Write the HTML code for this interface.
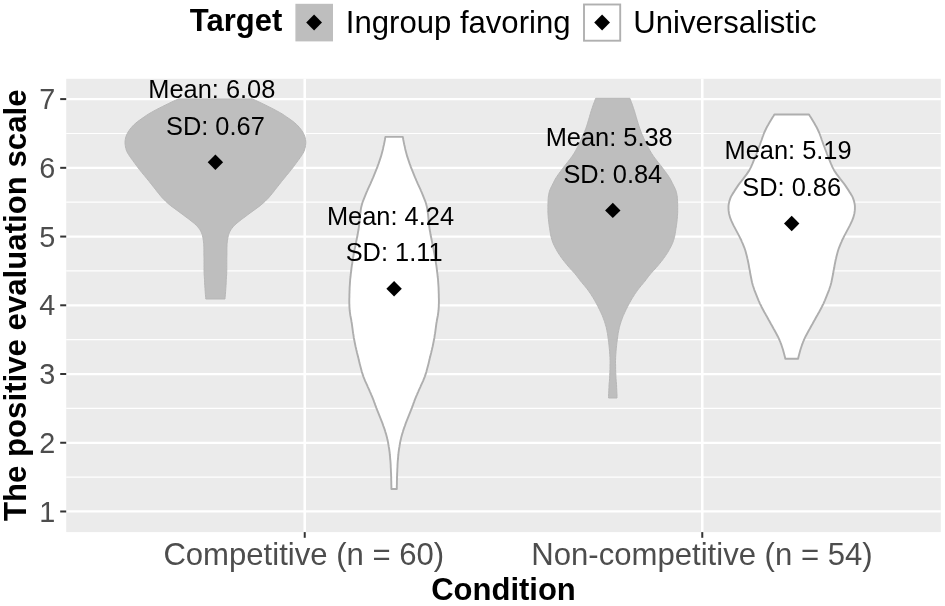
<!DOCTYPE html>
<html lang="en"><head><meta charset="utf-8"><title>Violin plot</title>
<style>
html,body{margin:0;padding:0;background:#fff;}
svg{display:block;width:945px;height:606px;will-change:transform;}
text{font-family:"Liberation Sans",sans-serif;}
.ax{fill:#4d4d4d;}
.b{font-weight:bold;fill:#000;}
.ann{fill:#000;text-anchor:middle;}
</style></head><body>
<svg width="945" height="606" viewBox="0 0 945 606" role="img" aria-label="Violin plot of the positive evaluation scale by condition and target">
<rect x="0" y="0" width="945" height="606" fill="#ffffff"/>
<rect x="66.2" y="78.8" width="874.6" height="453.3" fill="#ebebeb"/>
<g stroke="#ffffff" stroke-width="1.15" fill="none">
<line x1="66.2" x2="940.8" y1="477.12" y2="477.12"/>
<line x1="66.2" x2="940.8" y1="408.38" y2="408.38"/>
<line x1="66.2" x2="940.8" y1="339.65" y2="339.65"/>
<line x1="66.2" x2="940.8" y1="270.93" y2="270.93"/>
<line x1="66.2" x2="940.8" y1="202.19" y2="202.19"/>
<line x1="66.2" x2="940.8" y1="133.47" y2="133.47"/>
</g>
<g stroke="#ffffff" stroke-width="2.25" fill="none">
<line x1="66.2" x2="940.8" y1="511.48" y2="511.48"/>
<line x1="66.2" x2="940.8" y1="442.75" y2="442.75"/>
<line x1="66.2" x2="940.8" y1="374.02" y2="374.02"/>
<line x1="66.2" x2="940.8" y1="305.29" y2="305.29"/>
<line x1="66.2" x2="940.8" y1="236.56" y2="236.56"/>
<line x1="66.2" x2="940.8" y1="167.83" y2="167.83"/>
<line x1="66.2" x2="940.8" y1="99.10" y2="99.10"/>
<line x1="304.73" x2="304.73" y1="78.8" y2="532.1" stroke-width="2.6"/>
<line x1="702.27" x2="702.27" y1="78.8" y2="532.1" stroke-width="2.6"/>
</g>
<path d="M178.5,98.9 L175.2,100.4 L171.9,101.9 L168.8,103.4 L165.7,104.9 L162.7,106.4 L159.7,107.9 L156.8,109.4 L154.0,110.9 L151.3,112.4 L148.7,113.9 L146.4,115.4 L144.1,117.0 L141.9,118.5 L139.8,120.0 L137.7,121.5 L135.9,123.0 L134.2,124.5 L132.7,126.0 L131.4,127.5 L130.2,129.0 L129.1,130.5 L128.1,132.0 L127.3,133.5 L126.6,135.0 L126.0,136.5 L125.6,138.0 L125.3,139.5 L125.1,141.0 L125.0,142.5 L125.1,144.0 L125.3,145.5 L125.5,147.0 L125.9,148.5 L126.3,150.1 L126.9,151.6 L127.7,153.1 L128.6,154.6 L129.6,156.1 L130.6,157.6 L131.7,159.1 L132.8,160.6 L133.9,162.1 L135.0,163.6 L136.1,165.1 L137.2,166.6 L138.3,168.1 L139.5,169.6 L140.7,171.1 L141.9,172.6 L143.1,174.1 L144.4,175.6 L145.6,177.1 L146.8,178.6 L148.1,180.1 L149.3,181.6 L150.5,183.2 L151.7,184.7 L152.9,186.2 L154.1,187.7 L155.3,189.2 L156.4,190.7 L157.6,192.2 L158.8,193.7 L160.0,195.2 L161.3,196.7 L162.6,198.2 L164.1,199.7 L165.6,201.2 L167.2,202.7 L168.9,204.2 L170.7,205.7 L172.7,207.2 L174.8,208.7 L176.8,210.2 L178.9,211.7 L180.9,213.2 L183.0,214.7 L185.0,216.3 L187.1,217.8 L189.1,219.3 L191.0,220.8 L192.9,222.3 L194.7,223.8 L196.3,225.3 L197.7,226.8 L198.9,228.3 L200.0,229.8 L200.8,231.3 L201.5,232.8 L202.1,234.3 L202.5,235.8 L202.8,237.3 L203.1,238.8 L203.3,240.3 L203.5,241.8 L203.7,243.3 L203.8,244.8 L203.8,246.3 L203.9,247.8 L203.9,249.4 L203.9,250.9 L203.9,252.4 L203.9,253.9 L203.9,255.4 L204.0,256.9 L204.0,258.4 L204.0,259.9 L204.0,261.4 L204.0,262.9 L204.0,264.4 L204.0,265.9 L204.0,267.4 L204.0,268.9 L204.0,270.4 L204.1,271.9 L204.1,273.4 L204.2,274.9 L204.3,276.4 L204.4,277.9 L204.5,279.4 L204.6,280.9 L204.6,282.5 L204.7,284.0 L204.8,285.5 L204.9,287.0 L205.0,288.5 L205.1,290.0 L205.2,291.5 L205.3,293.0 L205.4,294.5 L205.6,296.0 L205.7,297.5 L205.8,299.0 L225.0,299.0 L225.1,297.5 L225.2,296.0 L225.4,294.5 L225.5,293.0 L225.6,291.5 L225.7,290.0 L225.8,288.5 L225.9,287.0 L226.0,285.5 L226.1,284.0 L226.2,282.5 L226.2,280.9 L226.3,279.4 L226.4,277.9 L226.5,276.4 L226.6,274.9 L226.7,273.4 L226.7,271.9 L226.8,270.4 L226.8,268.9 L226.8,267.4 L226.8,265.9 L226.8,264.4 L226.8,262.9 L226.8,261.4 L226.8,259.9 L226.8,258.4 L226.8,256.9 L226.9,255.4 L226.9,253.9 L226.9,252.4 L226.9,250.9 L226.9,249.4 L226.9,247.8 L227.0,246.3 L227.0,244.8 L227.1,243.3 L227.3,241.8 L227.5,240.3 L227.7,238.8 L228.0,237.3 L228.3,235.8 L228.7,234.3 L229.3,232.8 L230.0,231.3 L230.8,229.8 L231.9,228.3 L233.1,226.8 L234.5,225.3 L236.1,223.8 L237.9,222.3 L239.8,220.8 L241.7,219.3 L243.7,217.8 L245.8,216.3 L247.8,214.7 L249.9,213.2 L251.9,211.7 L254.0,210.2 L256.0,208.7 L258.1,207.2 L260.1,205.7 L261.9,204.2 L263.6,202.7 L265.2,201.2 L266.7,199.7 L268.2,198.2 L269.5,196.7 L270.8,195.2 L272.0,193.7 L273.2,192.2 L274.4,190.7 L275.5,189.2 L276.7,187.7 L277.9,186.2 L279.1,184.7 L280.3,183.2 L281.5,181.6 L282.7,180.1 L284.0,178.6 L285.2,177.1 L286.4,175.6 L287.7,174.1 L288.9,172.6 L290.1,171.1 L291.3,169.6 L292.5,168.1 L293.6,166.6 L294.7,165.1 L295.8,163.6 L296.9,162.1 L298.0,160.6 L299.1,159.1 L300.2,157.6 L301.2,156.1 L302.2,154.6 L303.1,153.1 L303.9,151.6 L304.5,150.1 L304.9,148.5 L305.3,147.0 L305.5,145.5 L305.7,144.0 L305.8,142.5 L305.7,141.0 L305.5,139.5 L305.2,138.0 L304.8,136.5 L304.2,135.0 L303.5,133.5 L302.7,132.0 L301.7,130.5 L300.6,129.0 L299.4,127.5 L298.1,126.0 L296.6,124.5 L294.9,123.0 L293.1,121.5 L291.0,120.0 L288.9,118.5 L286.7,117.0 L284.4,115.4 L282.1,113.9 L279.5,112.4 L276.8,110.9 L274.0,109.4 L271.1,107.9 L268.1,106.4 L265.1,104.9 L262.0,103.4 L258.9,101.9 L255.6,100.4 L252.3,98.9 Z" fill="#bebebe" stroke="#b7b7b7" stroke-width="1" stroke-linejoin="round"/>
<path d="M385.4,136.9 L385.1,138.4 L384.9,139.9 L384.6,141.4 L384.3,142.9 L384.0,144.4 L383.6,145.9 L383.3,147.4 L383.0,148.9 L382.6,150.4 L382.2,151.9 L381.8,153.4 L381.4,154.9 L381.0,156.4 L380.5,157.9 L380.0,159.4 L379.5,160.9 L379.0,162.4 L378.5,163.9 L377.9,165.4 L377.4,166.9 L376.8,168.4 L376.2,169.9 L375.6,171.4 L375.0,172.9 L374.4,174.4 L373.8,175.9 L373.2,177.4 L372.5,178.9 L371.9,180.4 L371.2,181.8 L370.6,183.3 L369.9,184.8 L369.2,186.3 L368.5,187.8 L367.8,189.3 L367.2,190.8 L366.5,192.3 L365.9,193.8 L365.3,195.3 L364.7,196.8 L364.1,198.3 L363.5,199.8 L362.9,201.3 L362.4,202.8 L362.0,204.3 L361.6,205.8 L361.2,207.3 L360.9,208.8 L360.7,210.3 L360.5,211.8 L360.3,213.3 L360.1,214.8 L360.0,216.3 L359.8,217.8 L359.7,219.3 L359.6,220.8 L359.4,222.3 L359.3,223.8 L359.1,225.3 L358.9,226.8 L358.7,228.3 L358.5,229.8 L358.2,231.3 L357.9,232.8 L357.7,234.3 L357.4,235.8 L357.1,237.3 L356.8,238.8 L356.5,240.3 L356.2,241.8 L355.9,243.3 L355.6,244.8 L355.3,246.3 L355.0,247.8 L354.6,249.3 L354.4,250.8 L354.1,252.3 L353.8,253.8 L353.5,255.3 L353.3,256.8 L353.0,258.3 L352.8,259.8 L352.5,261.3 L352.3,262.8 L352.1,264.3 L351.8,265.8 L351.6,267.3 L351.4,268.8 L351.3,270.2 L351.1,271.7 L350.9,273.2 L350.7,274.7 L350.6,276.2 L350.4,277.7 L350.2,279.2 L350.1,280.7 L350.0,282.2 L349.9,283.7 L349.8,285.2 L349.7,286.7 L349.6,288.2 L349.6,289.7 L349.5,291.2 L349.5,292.7 L349.4,294.2 L349.4,295.7 L349.4,297.2 L349.3,298.7 L349.3,300.2 L349.3,301.7 L349.3,303.2 L349.4,304.7 L349.4,306.2 L349.5,307.7 L349.6,309.2 L349.7,310.7 L349.9,312.2 L350.1,313.7 L350.3,315.2 L350.6,316.7 L350.9,318.2 L351.2,319.7 L351.4,321.2 L351.7,322.7 L351.9,324.2 L352.1,325.7 L352.3,327.2 L352.5,328.7 L352.7,330.2 L352.9,331.7 L353.1,333.2 L353.4,334.7 L353.6,336.2 L353.8,337.7 L354.1,339.2 L354.4,340.7 L354.7,342.2 L355.0,343.7 L355.3,345.2 L355.6,346.7 L356.0,348.2 L356.3,349.7 L356.7,351.2 L357.0,352.7 L357.4,354.2 L357.8,355.7 L358.1,357.1 L358.5,358.6 L358.8,360.1 L359.2,361.6 L359.5,363.1 L359.9,364.6 L360.3,366.1 L360.7,367.6 L361.1,369.1 L361.5,370.6 L361.9,372.1 L362.4,373.6 L362.9,375.1 L363.4,376.6 L364.0,378.1 L364.6,379.6 L365.2,381.1 L365.9,382.6 L366.6,384.1 L367.3,385.6 L367.9,387.1 L368.6,388.6 L369.3,390.1 L369.9,391.6 L370.6,393.1 L371.2,394.6 L371.9,396.1 L372.5,397.6 L373.1,399.1 L373.7,400.6 L374.2,402.1 L374.8,403.6 L375.3,405.1 L375.9,406.6 L376.4,408.1 L377.0,409.6 L377.6,411.1 L378.2,412.6 L378.8,414.1 L379.4,415.6 L380.0,417.1 L380.6,418.6 L381.2,420.1 L381.8,421.6 L382.4,423.1 L382.9,424.6 L383.4,426.1 L384.0,427.6 L384.5,429.1 L385.0,430.6 L385.4,432.1 L385.9,433.6 L386.3,435.1 L386.7,436.6 L387.1,438.1 L387.4,439.6 L387.8,441.1 L388.1,442.6 L388.3,444.1 L388.6,445.5 L388.8,447.0 L389.1,448.5 L389.3,450.0 L389.5,451.5 L389.7,453.0 L389.8,454.5 L390.0,456.0 L390.1,457.5 L390.2,459.0 L390.4,460.5 L390.5,462.0 L390.6,463.5 L390.7,465.0 L390.7,466.5 L390.8,468.0 L390.9,469.5 L390.9,471.0 L391.0,472.5 L391.1,474.0 L391.1,475.5 L391.2,477.0 L391.2,478.5 L391.2,480.0 L391.3,481.5 L391.3,483.0 L391.3,484.5 L391.4,486.0 L391.4,487.5 L391.4,489.0 L396.8,489.0 L396.8,487.5 L396.8,486.0 L396.9,484.5 L396.9,483.0 L396.9,481.5 L397.0,480.0 L397.0,478.5 L397.0,477.0 L397.1,475.5 L397.1,474.0 L397.2,472.5 L397.3,471.0 L397.3,469.5 L397.4,468.0 L397.5,466.5 L397.5,465.0 L397.6,463.5 L397.7,462.0 L397.8,460.5 L398.0,459.0 L398.1,457.5 L398.2,456.0 L398.4,454.5 L398.5,453.0 L398.7,451.5 L398.9,450.0 L399.1,448.5 L399.4,447.0 L399.6,445.5 L399.9,444.1 L400.1,442.6 L400.4,441.1 L400.8,439.6 L401.1,438.1 L401.5,436.6 L401.9,435.1 L402.3,433.6 L402.8,432.1 L403.2,430.6 L403.7,429.1 L404.2,427.6 L404.8,426.1 L405.3,424.6 L405.8,423.1 L406.4,421.6 L407.0,420.1 L407.6,418.6 L408.2,417.1 L408.8,415.6 L409.4,414.1 L410.0,412.6 L410.6,411.1 L411.2,409.6 L411.8,408.1 L412.3,406.6 L412.9,405.1 L413.4,403.6 L414.0,402.1 L414.5,400.6 L415.1,399.1 L415.7,397.6 L416.3,396.1 L417.0,394.6 L417.6,393.1 L418.3,391.6 L418.9,390.1 L419.6,388.6 L420.3,387.1 L420.9,385.6 L421.6,384.1 L422.3,382.6 L423.0,381.1 L423.6,379.6 L424.2,378.1 L424.8,376.6 L425.3,375.1 L425.8,373.6 L426.3,372.1 L426.7,370.6 L427.1,369.1 L427.5,367.6 L427.9,366.1 L428.3,364.6 L428.7,363.1 L429.0,361.6 L429.4,360.1 L429.7,358.6 L430.1,357.1 L430.4,355.7 L430.8,354.2 L431.2,352.7 L431.5,351.2 L431.9,349.7 L432.2,348.2 L432.6,346.7 L432.9,345.2 L433.2,343.7 L433.5,342.2 L433.8,340.7 L434.1,339.2 L434.4,337.7 L434.6,336.2 L434.8,334.7 L435.1,333.2 L435.3,331.7 L435.5,330.2 L435.7,328.7 L435.9,327.2 L436.1,325.7 L436.3,324.2 L436.5,322.7 L436.8,321.2 L437.0,319.7 L437.3,318.2 L437.6,316.7 L437.9,315.2 L438.1,313.7 L438.3,312.2 L438.5,310.7 L438.6,309.2 L438.7,307.7 L438.8,306.2 L438.8,304.7 L438.9,303.2 L438.9,301.7 L438.9,300.2 L438.9,298.7 L438.8,297.2 L438.8,295.7 L438.8,294.2 L438.7,292.7 L438.7,291.2 L438.6,289.7 L438.6,288.2 L438.5,286.7 L438.4,285.2 L438.3,283.7 L438.2,282.2 L438.1,280.7 L438.0,279.2 L437.8,277.7 L437.6,276.2 L437.5,274.7 L437.3,273.2 L437.1,271.7 L436.9,270.2 L436.8,268.8 L436.6,267.3 L436.4,265.8 L436.1,264.3 L435.9,262.8 L435.7,261.3 L435.4,259.8 L435.2,258.3 L434.9,256.8 L434.7,255.3 L434.4,253.8 L434.1,252.3 L433.8,250.8 L433.6,249.3 L433.2,247.8 L432.9,246.3 L432.6,244.8 L432.3,243.3 L432.0,241.8 L431.7,240.3 L431.4,238.8 L431.1,237.3 L430.8,235.8 L430.5,234.3 L430.3,232.8 L430.0,231.3 L429.7,229.8 L429.5,228.3 L429.3,226.8 L429.1,225.3 L428.9,223.8 L428.8,222.3 L428.6,220.8 L428.5,219.3 L428.4,217.8 L428.2,216.3 L428.1,214.8 L427.9,213.3 L427.7,211.8 L427.5,210.3 L427.3,208.8 L427.0,207.3 L426.6,205.8 L426.2,204.3 L425.8,202.8 L425.3,201.3 L424.7,199.8 L424.1,198.3 L423.5,196.8 L422.9,195.3 L422.3,193.8 L421.7,192.3 L421.0,190.8 L420.4,189.3 L419.7,187.8 L419.0,186.3 L418.3,184.8 L417.6,183.3 L417.0,181.8 L416.3,180.4 L415.7,178.9 L415.0,177.4 L414.4,175.9 L413.8,174.4 L413.2,172.9 L412.6,171.4 L412.0,169.9 L411.4,168.4 L410.8,166.9 L410.3,165.4 L409.7,163.9 L409.2,162.4 L408.7,160.9 L408.2,159.4 L407.7,157.9 L407.2,156.4 L406.8,154.9 L406.4,153.4 L406.0,151.9 L405.6,150.4 L405.2,148.9 L404.9,147.4 L404.6,145.9 L404.2,144.4 L403.9,142.9 L403.6,141.4 L403.3,139.9 L403.1,138.4 L402.8,136.9 Z" fill="#ffffff" stroke="#aeaeae" stroke-width="1.9" stroke-linejoin="round"/>
<path d="M595.7,98.3 L595.1,99.8 L594.6,101.3 L594.0,102.8 L593.4,104.3 L592.9,105.8 L592.4,107.3 L591.9,108.8 L591.4,110.3 L590.9,111.8 L590.5,113.3 L590.0,114.8 L589.6,116.3 L589.2,117.8 L588.7,119.3 L588.3,120.8 L587.8,122.3 L587.4,123.8 L586.9,125.3 L586.4,126.8 L585.9,128.3 L585.3,129.8 L584.8,131.3 L584.2,132.8 L583.6,134.3 L582.9,135.8 L582.2,137.3 L581.6,138.8 L580.9,140.3 L580.2,141.8 L579.5,143.3 L578.7,144.8 L578.0,146.3 L577.2,147.8 L576.4,149.2 L575.6,150.7 L574.7,152.2 L573.8,153.7 L572.8,155.2 L571.8,156.7 L570.7,158.2 L569.5,159.7 L568.4,161.2 L567.2,162.7 L566.0,164.2 L564.8,165.7 L563.6,167.2 L562.5,168.7 L561.4,170.2 L560.3,171.7 L559.2,173.2 L558.1,174.7 L557.1,176.2 L556.1,177.7 L555.2,179.2 L554.4,180.7 L553.7,182.2 L552.9,183.7 L552.2,185.2 L551.4,186.7 L550.7,188.2 L550.0,189.7 L549.5,191.2 L549.1,192.7 L548.8,194.2 L548.5,195.7 L548.3,197.2 L548.2,198.7 L548.1,200.2 L548.0,201.7 L548.0,203.2 L547.9,204.7 L547.9,206.2 L547.9,207.7 L547.9,209.2 L547.9,210.7 L547.9,212.2 L548.0,213.7 L548.1,215.2 L548.2,216.7 L548.3,218.2 L548.5,219.7 L548.6,221.2 L548.8,222.7 L549.0,224.2 L549.2,225.7 L549.4,227.2 L549.7,228.7 L549.9,230.2 L550.1,231.7 L550.4,233.2 L550.6,234.7 L550.9,236.2 L551.3,237.7 L551.7,239.2 L552.2,240.7 L552.7,242.2 L553.3,243.7 L554.0,245.2 L554.7,246.7 L555.5,248.1 L556.3,249.6 L557.1,251.1 L558.0,252.6 L559.0,254.1 L560.0,255.6 L561.0,257.1 L562.1,258.6 L563.2,260.1 L564.4,261.6 L565.6,263.1 L566.8,264.6 L568.1,266.1 L569.4,267.6 L570.7,269.1 L572.1,270.6 L573.5,272.1 L574.8,273.6 L576.1,275.1 L577.2,276.6 L578.4,278.1 L579.5,279.6 L580.6,281.1 L581.9,282.6 L583.1,284.1 L584.4,285.6 L585.6,287.1 L586.8,288.6 L588.0,290.1 L589.0,291.6 L590.1,293.1 L591.1,294.6 L592.0,296.1 L593.0,297.6 L593.9,299.1 L594.7,300.6 L595.6,302.1 L596.4,303.6 L597.2,305.1 L598.0,306.6 L598.7,308.1 L599.5,309.6 L600.2,311.1 L600.9,312.6 L601.6,314.1 L602.3,315.6 L602.9,317.1 L603.4,318.6 L604.0,320.1 L604.5,321.6 L605.0,323.1 L605.4,324.6 L605.9,326.1 L606.3,327.6 L606.6,329.1 L606.9,330.6 L607.2,332.1 L607.5,333.6 L607.7,335.1 L607.9,336.6 L608.1,338.1 L608.3,339.6 L608.5,341.1 L608.7,342.6 L608.9,344.1 L609.0,345.6 L609.2,347.1 L609.3,348.5 L609.5,350.0 L609.6,351.5 L609.7,353.0 L609.8,354.5 L609.9,356.0 L610.0,357.5 L610.0,359.0 L610.1,360.5 L610.1,362.0 L610.1,363.5 L610.0,365.0 L610.0,366.5 L610.0,368.0 L610.0,369.5 L609.9,371.0 L609.9,372.5 L609.8,374.0 L609.7,375.5 L609.7,377.0 L609.6,378.5 L609.5,380.0 L609.4,381.5 L609.2,383.0 L609.1,384.5 L609.0,386.0 L609.0,387.5 L608.9,389.0 L608.8,390.5 L608.8,392.0 L608.7,393.5 L608.6,395.0 L608.6,396.5 L608.6,398.0 L617.0,398.0 L617.0,396.5 L617.0,395.0 L616.9,393.5 L616.8,392.0 L616.8,390.5 L616.7,389.0 L616.6,387.5 L616.6,386.0 L616.5,384.5 L616.4,383.0 L616.2,381.5 L616.1,380.0 L616.0,378.5 L615.9,377.0 L615.9,375.5 L615.8,374.0 L615.7,372.5 L615.7,371.0 L615.6,369.5 L615.6,368.0 L615.6,366.5 L615.6,365.0 L615.5,363.5 L615.5,362.0 L615.5,360.5 L615.6,359.0 L615.6,357.5 L615.7,356.0 L615.8,354.5 L615.9,353.0 L616.0,351.5 L616.1,350.0 L616.3,348.5 L616.4,347.1 L616.6,345.6 L616.7,344.1 L616.9,342.6 L617.1,341.1 L617.3,339.6 L617.5,338.1 L617.7,336.6 L617.9,335.1 L618.1,333.6 L618.4,332.1 L618.7,330.6 L619.0,329.1 L619.3,327.6 L619.7,326.1 L620.2,324.6 L620.6,323.1 L621.1,321.6 L621.6,320.1 L622.2,318.6 L622.7,317.1 L623.3,315.6 L624.0,314.1 L624.7,312.6 L625.4,311.1 L626.1,309.6 L626.9,308.1 L627.6,306.6 L628.4,305.1 L629.2,303.6 L630.0,302.1 L630.9,300.6 L631.7,299.1 L632.6,297.6 L633.6,296.1 L634.5,294.6 L635.5,293.1 L636.6,291.6 L637.6,290.1 L638.8,288.6 L640.0,287.1 L641.2,285.6 L642.5,284.1 L643.7,282.6 L645.0,281.1 L646.1,279.6 L647.2,278.1 L648.4,276.6 L649.5,275.1 L650.8,273.6 L652.1,272.1 L653.5,270.6 L654.9,269.1 L656.2,267.6 L657.5,266.1 L658.8,264.6 L660.0,263.1 L661.2,261.6 L662.4,260.1 L663.5,258.6 L664.6,257.1 L665.6,255.6 L666.6,254.1 L667.6,252.6 L668.5,251.1 L669.3,249.6 L670.1,248.1 L670.9,246.7 L671.6,245.2 L672.3,243.7 L672.9,242.2 L673.4,240.7 L673.9,239.2 L674.3,237.7 L674.7,236.2 L675.0,234.7 L675.2,233.2 L675.5,231.7 L675.7,230.2 L675.9,228.7 L676.2,227.2 L676.4,225.7 L676.6,224.2 L676.8,222.7 L677.0,221.2 L677.1,219.7 L677.3,218.2 L677.4,216.7 L677.5,215.2 L677.6,213.7 L677.7,212.2 L677.7,210.7 L677.7,209.2 L677.7,207.7 L677.7,206.2 L677.7,204.7 L677.6,203.2 L677.6,201.7 L677.5,200.2 L677.4,198.7 L677.3,197.2 L677.1,195.7 L676.8,194.2 L676.5,192.7 L676.1,191.2 L675.6,189.7 L674.9,188.2 L674.2,186.7 L673.4,185.2 L672.7,183.7 L671.9,182.2 L671.2,180.7 L670.4,179.2 L669.5,177.7 L668.5,176.2 L667.5,174.7 L666.4,173.2 L665.3,171.7 L664.2,170.2 L663.1,168.7 L662.0,167.2 L660.8,165.7 L659.6,164.2 L658.4,162.7 L657.2,161.2 L656.1,159.7 L654.9,158.2 L653.8,156.7 L652.8,155.2 L651.8,153.7 L650.9,152.2 L650.0,150.7 L649.2,149.2 L648.4,147.8 L647.6,146.3 L646.9,144.8 L646.1,143.3 L645.4,141.8 L644.7,140.3 L644.0,138.8 L643.4,137.3 L642.7,135.8 L642.0,134.3 L641.4,132.8 L640.8,131.3 L640.3,129.8 L639.7,128.3 L639.2,126.8 L638.7,125.3 L638.2,123.8 L637.8,122.3 L637.3,120.8 L636.9,119.3 L636.4,117.8 L636.0,116.3 L635.6,114.8 L635.1,113.3 L634.7,111.8 L634.2,110.3 L633.7,108.8 L633.2,107.3 L632.7,105.8 L632.2,104.3 L631.6,102.8 L631.0,101.3 L630.5,99.8 L629.9,98.3 Z" fill="#bebebe" stroke="#b7b7b7" stroke-width="1" stroke-linejoin="round"/>
<path d="M774.4,114.5 L773.5,116.0 L772.5,117.5 L771.6,119.0 L770.7,120.5 L769.8,122.0 L768.9,123.5 L768.1,125.0 L767.2,126.5 L766.4,128.0 L765.7,129.5 L765.0,131.0 L764.3,132.5 L763.7,134.0 L763.2,135.5 L762.6,137.0 L762.1,138.5 L761.6,140.0 L761.0,141.5 L760.5,143.0 L760.0,144.5 L759.4,146.0 L758.8,147.5 L758.3,149.0 L757.7,150.5 L757.1,152.0 L756.6,153.5 L756.0,155.0 L755.4,156.4 L754.8,157.9 L754.2,159.4 L753.6,160.9 L753.0,162.4 L752.4,163.9 L751.7,165.4 L751.1,166.9 L750.3,168.4 L749.5,169.9 L748.6,171.4 L747.6,172.9 L746.6,174.4 L745.4,175.9 L744.3,177.4 L743.2,178.9 L742.0,180.4 L740.8,181.9 L739.6,183.4 L738.5,184.9 L737.5,186.4 L736.5,187.9 L735.5,189.4 L734.5,190.9 L733.6,192.4 L732.6,193.9 L731.7,195.4 L730.9,196.9 L730.3,198.4 L729.8,199.9 L729.3,201.4 L729.0,202.9 L728.7,204.4 L728.5,205.9 L728.5,207.4 L728.5,208.9 L728.6,210.4 L728.8,211.9 L729.0,213.4 L729.4,214.9 L729.8,216.4 L730.2,217.9 L730.8,219.4 L731.4,220.9 L732.1,222.4 L732.8,223.9 L733.5,225.4 L734.3,226.9 L735.1,228.4 L735.9,229.9 L736.7,231.4 L737.5,232.9 L738.3,234.4 L739.1,235.9 L739.8,237.3 L740.5,238.8 L741.3,240.3 L741.9,241.8 L742.6,243.3 L743.2,244.8 L743.8,246.3 L744.4,247.8 L744.9,249.3 L745.4,250.8 L745.8,252.3 L746.2,253.8 L746.6,255.3 L747.0,256.8 L747.3,258.3 L747.7,259.8 L748.0,261.3 L748.3,262.8 L748.6,264.3 L748.9,265.8 L749.1,267.3 L749.4,268.8 L749.7,270.3 L750.0,271.8 L750.2,273.3 L750.5,274.8 L750.8,276.3 L751.1,277.8 L751.4,279.3 L751.7,280.8 L752.0,282.3 L752.4,283.8 L752.8,285.3 L753.3,286.8 L753.8,288.3 L754.3,289.8 L754.9,291.3 L755.5,292.8 L756.1,294.3 L756.7,295.8 L757.3,297.3 L757.9,298.8 L758.5,300.3 L759.2,301.8 L759.8,303.3 L760.5,304.8 L761.3,306.3 L762.0,307.8 L762.8,309.3 L763.6,310.8 L764.4,312.3 L765.3,313.8 L766.1,315.3 L767.0,316.8 L767.8,318.2 L768.6,319.7 L769.5,321.2 L770.3,322.7 L771.1,324.2 L772.0,325.7 L772.8,327.2 L773.6,328.7 L774.5,330.2 L775.3,331.7 L776.1,333.2 L776.9,334.7 L777.7,336.2 L778.4,337.7 L779.1,339.2 L779.7,340.7 L780.4,342.2 L780.9,343.7 L781.5,345.2 L782.0,346.7 L782.5,348.2 L783.0,349.7 L783.4,351.2 L783.8,352.7 L784.2,354.2 L784.6,355.7 L785.0,357.2 L785.3,358.7 L798.1,358.7 L798.4,357.2 L798.8,355.7 L799.2,354.2 L799.6,352.7 L800.0,351.2 L800.4,349.7 L800.9,348.2 L801.4,346.7 L801.9,345.2 L802.5,343.7 L803.0,342.2 L803.7,340.7 L804.3,339.2 L805.0,337.7 L805.7,336.2 L806.5,334.7 L807.3,333.2 L808.1,331.7 L808.9,330.2 L809.8,328.7 L810.6,327.2 L811.4,325.7 L812.3,324.2 L813.1,322.7 L813.9,321.2 L814.8,319.7 L815.6,318.2 L816.4,316.8 L817.3,315.3 L818.1,313.8 L819.0,312.3 L819.8,310.8 L820.6,309.3 L821.4,307.8 L822.1,306.3 L822.9,304.8 L823.6,303.3 L824.2,301.8 L824.9,300.3 L825.5,298.8 L826.1,297.3 L826.7,295.8 L827.3,294.3 L827.9,292.8 L828.5,291.3 L829.1,289.8 L829.6,288.3 L830.1,286.8 L830.6,285.3 L831.0,283.8 L831.4,282.3 L831.7,280.8 L832.0,279.3 L832.3,277.8 L832.6,276.3 L832.9,274.8 L833.2,273.3 L833.4,271.8 L833.7,270.3 L834.0,268.8 L834.3,267.3 L834.5,265.8 L834.8,264.3 L835.1,262.8 L835.4,261.3 L835.7,259.8 L836.1,258.3 L836.4,256.8 L836.8,255.3 L837.2,253.8 L837.6,252.3 L838.0,250.8 L838.5,249.3 L839.0,247.8 L839.6,246.3 L840.2,244.8 L840.8,243.3 L841.5,241.8 L842.1,240.3 L842.9,238.8 L843.6,237.3 L844.3,235.9 L845.1,234.4 L845.9,232.9 L846.7,231.4 L847.5,229.9 L848.3,228.4 L849.1,226.9 L849.9,225.4 L850.6,223.9 L851.3,222.4 L852.0,220.9 L852.6,219.4 L853.2,217.9 L853.6,216.4 L854.0,214.9 L854.4,213.4 L854.6,211.9 L854.8,210.4 L854.9,208.9 L854.9,207.4 L854.9,205.9 L854.7,204.4 L854.4,202.9 L854.1,201.4 L853.6,199.9 L853.1,198.4 L852.5,196.9 L851.7,195.4 L850.8,193.9 L849.8,192.4 L848.9,190.9 L847.9,189.4 L846.9,187.9 L845.9,186.4 L844.9,184.9 L843.8,183.4 L842.6,181.9 L841.4,180.4 L840.2,178.9 L839.1,177.4 L838.0,175.9 L836.8,174.4 L835.8,172.9 L834.8,171.4 L833.9,169.9 L833.1,168.4 L832.3,166.9 L831.7,165.4 L831.0,163.9 L830.4,162.4 L829.8,160.9 L829.2,159.4 L828.6,157.9 L828.0,156.4 L827.4,155.0 L826.8,153.5 L826.3,152.0 L825.7,150.5 L825.1,149.0 L824.6,147.5 L824.0,146.0 L823.4,144.5 L822.9,143.0 L822.4,141.5 L821.8,140.0 L821.3,138.5 L820.8,137.0 L820.2,135.5 L819.7,134.0 L819.1,132.5 L818.4,131.0 L817.7,129.5 L817.0,128.0 L816.2,126.5 L815.3,125.0 L814.5,123.5 L813.6,122.0 L812.7,120.5 L811.8,119.0 L810.9,117.5 L809.9,116.0 L809.0,114.5 Z" fill="#ffffff" stroke="#aeaeae" stroke-width="1.9" stroke-linejoin="round"/>
<path d="M215.4,154.6 L223.1,162.3 L215.4,170.0 L207.7,162.3 Z" fill="#000"/>
<path d="M394.1,281.1 L401.8,288.8 L394.1,296.5 L386.4,288.8 Z" fill="#000"/>
<path d="M612.8,202.7 L620.5,210.4 L612.8,218.1 L605.1,210.4 Z" fill="#000"/>
<path d="M791.7,215.8 L799.4,223.5 L791.7,231.2 L784.0,223.5 Z" fill="#000"/>
<text class="ann" font-size="25.4" x="211.8" y="98.1">Mean: 6.08</text>
<text class="ann" font-size="25.4" x="215.4" y="134.8">SD: 0.67</text>
<text class="ann" font-size="25.4" x="390.5" y="224.6">Mean: 4.24</text>
<text class="ann" font-size="25.4" x="394.1" y="261.3">SD: 1.11</text>
<text class="ann" font-size="25.4" x="609.2" y="146.2">Mean: 5.38</text>
<text class="ann" font-size="25.4" x="612.8" y="182.9">SD: 0.84</text>
<text class="ann" font-size="25.4" x="788.1" y="159.3">Mean: 5.19</text>
<text class="ann" font-size="25.4" x="791.7" y="196.0">SD: 0.86</text>
<g stroke="#333333" stroke-width="2">
<line x1="60.2" x2="66.2" y1="511.48" y2="511.48"/>
<line x1="60.2" x2="66.2" y1="442.75" y2="442.75"/>
<line x1="60.2" x2="66.2" y1="374.02" y2="374.02"/>
<line x1="60.2" x2="66.2" y1="305.29" y2="305.29"/>
<line x1="60.2" x2="66.2" y1="236.56" y2="236.56"/>
<line x1="60.2" x2="66.2" y1="167.83" y2="167.83"/>
<line x1="60.2" x2="66.2" y1="99.10" y2="99.10"/>
<line x1="304.73" x2="304.73" y1="532.1" y2="537.8"/>
<line x1="702.27" x2="702.27" y1="532.1" y2="537.8"/>
</g>
<text class="ax" font-size="28.8" text-anchor="end" x="55.3" y="521.5">1</text>
<text class="ax" font-size="28.8" text-anchor="end" x="55.3" y="452.8">2</text>
<text class="ax" font-size="28.8" text-anchor="end" x="55.3" y="384.0">3</text>
<text class="ax" font-size="28.8" text-anchor="end" x="55.3" y="315.3">4</text>
<text class="ax" font-size="28.8" text-anchor="end" x="55.3" y="246.6">5</text>
<text class="ax" font-size="28.8" text-anchor="end" x="55.3" y="177.8">6</text>
<text class="ax" font-size="28.8" text-anchor="end" x="55.3" y="109.1">7</text>
<text class="ax" font-size="31.1" text-anchor="middle" x="303.8" y="565">Competitive (n = 60)</text>
<text class="ax" font-size="31.1" text-anchor="middle" x="702.0" y="565">Non-competitive (n = 54)</text>
<text class="b" font-size="31.0" text-anchor="middle" x="503.5" y="600.2">Condition</text>
<text class="b" font-size="31.2" text-anchor="middle" transform="translate(26.1,305.3) rotate(-90)">The positive evaluation scale</text>
<text class="b" font-size="31.0" x="189.8" y="30.5">Target</text>
<rect x="296.1" y="4.5" width="36.2" height="36.2" fill="#bebebe" stroke="#bebebe" stroke-width="1.4"/>
<path d="M314.1,14.6 L322.0,22.5 L314.1,30.4 L306.2,22.5 Z" fill="#000"/>
<text font-size="31.1" x="345.8" y="33.4" fill="#000">Ingroup favoring</text>
<rect x="584.0" y="4.5" width="36.2" height="36.2" fill="#ffffff" stroke="#b0b0b0" stroke-width="1.9"/>
<path d="M602.1,14.6 L610.0,22.5 L602.1,30.4 L594.2,22.5 Z" fill="#000"/>
<text font-size="31.1" x="633.3" y="33.4" fill="#000">Universalistic</text>
</svg>
</body></html>
